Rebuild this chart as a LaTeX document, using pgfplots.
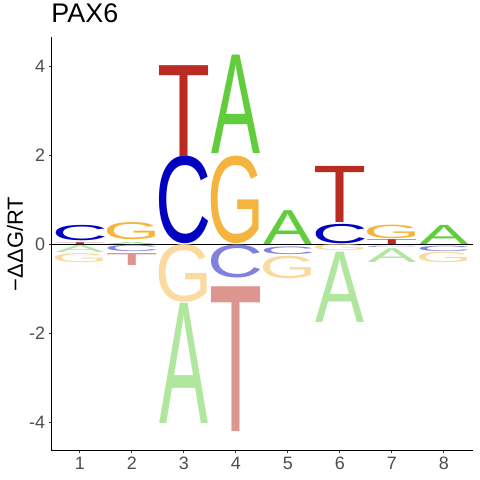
\documentclass[border=0pt]{standalone}
\usepackage{fontspec}
\setmainfont{Liberation Sans}
\usepackage{graphicx}
\usepackage{pgfplots}
\pgfplotsset{compat=1.18}
\usepackage{pgfplotstable}
\usetikzlibrary{plotmarks}
\definecolor{cA}{HTML}{61CD3D}
\definecolor{cC}{HTML}{0000C0}
\definecolor{cG}{HTML}{F5B43D}
\definecolor{cT}{HTML}{BA2C21}
\colorlet{nA}{cA!50!white}
\colorlet{nC}{cC!50!white}
\colorlet{nG}{cG!50!white}
\colorlet{nT}{cT!50!white}
\definecolor{tickgrey}{HTML}{4D4D4D}
% letter code k: 1=A 2=C 3=G 4=T
\newcommand\logoletter[2]{% #1 prefix (c/n), #2 code
  \pgfmathtruncatemacro\ki{#2}%
  \ifcase\ki\or\def\Ltr{A}\def\Lw{49}\or\def\Ltr{C}\def\Lw{56}\or\def\Ltr{G}\def\Lw{57}\or\def\Ltr{T}\def\Lw{53}\fi
  \resizebox{\Lw bp}{\hh bp}{\color{#1\Ltr}\Ltr}}

\pgfplotstableread{
x y0 h k L
1 0.00 0.04 4 T
1 0.07 0.34 2 C
2 0.00 0.04 1 A
2 0.10 0.38 3 G
3 0.02 1.94 2 C
3 1.98 2.04 4 T
4 0.02 1.94 3 G
4 2.04 2.21 1 A
5 0.00 0.76 1 A
6 0.02 0.43 2 C
6 0.48 1.26 4 T
7 0.00 0.11 4 T
7 0.13 0.30 3 G
8 0.00 0.43 1 A
}\pos

\pgfplotstableread{
x y0 h k L
1 -0.19 0.16 1 A
1 -0.42 0.20 3 G
2 -0.17 0.14 2 C
2 -0.47 0.27 4 T
3 -1.30 1.28 3 G
3 -4.03 2.70 1 A
4 -0.75 0.73 2 C
4 -4.21 3.25 4 T
5 -0.23 0.17 2 C
5 -0.77 0.50 3 G
6 -0.15 0.13 3 G
6 -1.75 1.58 1 A
7 -0.07 0.03 2 C
7 -0.42 0.31 1 A
8 -0.16 0.12 2 C
8 -0.42 0.23 3 G
}\neg

\begin{document}
\begin{tikzpicture}
\begin{axis}[
  scale only axis, x=52bp, y=44.5bp,
  xmin=0.45, xmax=8.56, ymin=-4.64, ymax=4.65,
  axis lines*=left,
  axis line style={line width=1.1bp, black},
  xtick={1,...,8}, ytick={-4,-2,0,2,4}, yticklabels={-4,-2,0,2,4},
  tick align=outside, major tick length=2.75bp,
  tick style={line width=1.1bp, color=black!80},
  ticklabel style={font=\fontsize{18}{18}\selectfont, text=tickgrey},
  /pgf/number format/assume math mode=true,
  ylabel={−ΔΔG/RT},
  ylabel style={at={(axis description cs:-0.086,0.5)}, anchor=center, font=\fontsize{22}{22}\selectfont},
  title={PAX6},
  title style={at={(axis description cs:0,1)}, anchor=base west, xshift=0bp, yshift=9bp, inner sep=0pt, font=\fontsize{27}{27}\selectfont},
]
\addplot[only marks, mark=text,
  visualization depends on={\thisrow{h}*44.5 \as \hh},
  visualization depends on={\thisrow{k} \as \kk},
  text mark as node=true,
  text mark style={anchor=south, inner sep=0pt, outer sep=0pt},
  text mark={\logoletter{c}{\kk}},
] table[x=x, y=y0] {\pos};
\addplot[only marks, mark=text,
  visualization depends on={\thisrow{h}*44.5 \as \hh},
  visualization depends on={\thisrow{k} \as \kk},
  text mark as node=true,
  text mark style={anchor=south, inner sep=0pt, outer sep=0pt},
  text mark={\logoletter{n}{\kk}},
] table[x=x, y=y0] {\neg};
\addplot[black, line width=0.9bp] coordinates {(0.45,0) (8.56,0)};
\coordinate (bl) at (rel axis cs:0,0);
\end{axis}
\pgfresetboundingbox
\path (bl) ++(-51.3bp,-29.3bp) rectangle ++(480bp,480bp);
\end{tikzpicture}
\end{document}
